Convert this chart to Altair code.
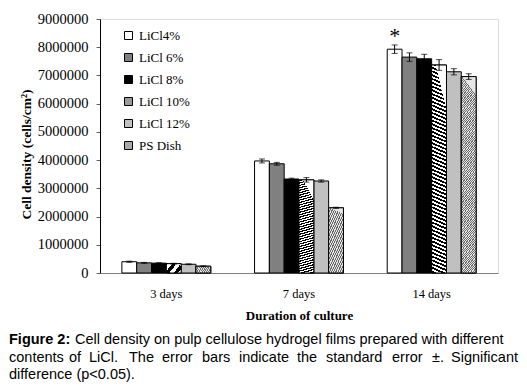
import altair as alt
import pandas as pd

days = ["3 days", "7 days", "14 days"]
series = ["LiCl4%", "LiCl 6%", "LiCl 8%", "LiCl 10%", "LiCl 12%", "PS Dish"]
values_3 = [400000, 360000, 350000, 330000, 310000, 240000]
values_7 = [3970000, 3870000, 3330000, 3300000, 3260000, 2310000]
values_14 = [7930000, 7650000, 7590000, 7370000, 7130000, 6960000]
err_3 = [20000, 15000, 15000, 15000, 15000, 15000]
err_7 = [70000, 50000, 30000, 80000, 40000, 20000]
err_14 = [150000, 150000, 160000, 190000, 110000, 100000]
y_ticks = [0, 1000000, 2000000, 3000000, 4000000, 5000000, 6000000, 7000000, 8000000, 9000000]
star_day, star_series, star_y = "14 days", "LiCl4%", 8500000

caption_1b = "Figure 2:"
caption_1 = "Cell density on pulp cellulose hydrogel films prepared with different"
caption_2_words = ["contents", "of", "LiCl.", "The", "error", "bars", "indicate", "the",
                   "standard", "error", "\u00b1.", "Significant"]
caption_3 = "difference (p<0.05)."

# text layout (pixel positions of the justified caption words, relative to plot left)
caption_2_x = [-91, -31, -11, 29, 62, 102, 139, 197, 226, 292, 332, 418]

colors = ["white", "#808080", "black", "#9a9a9a", "#c0c0c0", "#a8a8a8"]

rows = []
for d, vals, errs in zip(days, [values_3, values_7, values_14], [err_3, err_7, err_14]):
    for s, v, e in zip(series, vals, errs):
        rows.append({"Day": d, "Series": s, "Value": v, "Err": e})
df = pd.DataFrame(rows)

SERIF = "Liberation Serif"
SANS = "Liberation Sans"


def stripes(c1, c2, n, x1, x2):
    stops = []
    for i in range(n):
        a, b, c = i / n, (i + 0.5) / n, (i + 1) / n
        stops += [
            {"offset": a, "color": c1}, {"offset": b, "color": c1},
            {"offset": b, "color": c2}, {"offset": c, "color": c2},
        ]
    return {"gradient": "linear", "stops": stops, "x1": x1, "y1": 0, "x2": x2, "y2": 1}


x_axis = alt.Axis(
    title="Duration of culture", ticks=False, tickSize=0, labelAngle=0,
    labelFont=SERIF, labelFontSize=12.5, labelColor="black", labelPadding=14,
    domainColor="#808080", titleFont=SERIF, titleFontSize=13, titleFontWeight="bold",
    titleColor="black", titleY=42, titleBaseline="middle",
)
x_enc = alt.X("Day:N", sort=days,
              scale=alt.Scale(domain=days, paddingInner=0.33, paddingOuter=0.165),
              axis=x_axis)
xo_enc = alt.XOffset("Series:N", sort=series, scale=alt.Scale(domain=series, paddingInner=0, paddingOuter=0))
yscale = alt.Scale(domain=[0, 9000000], nice=False)
y_axis = alt.Axis(
    values=y_ticks, tickCount=10, format="d", grid=False, tickSize=4, tickColor="#606060",
    domainColor="black", labelFont=SERIF, labelFontSize=14.5, labelColor="black",
    labelPadding=8, labelOverlap=False, title="Cell density (cells/cm\u00b2)", titleFont=SERIF,
    titleFontSize=13.5, titleFontWeight="bold", titleColor="black",
    titleX=-74, titleY=135, titleAngle=270, titleAlign="center", titleBaseline="middle",
)


def Y(field):
    return alt.Y(field, type="quantitative", scale=yscale, axis=y_axis)


base = alt.Chart(df).encode(x=x_enc, xOffset=xo_enc)

bars = base.mark_bar(stroke="black", strokeWidth=1).encode(
    y=Y("Value"),
    fill=alt.Fill(
        "Series:N", sort=series,
        scale=alt.Scale(domain=series, range=colors),
        legend=alt.Legend(
            title=None, orient="none", legendX=22, legendY=10, symbolType="square",
            symbolSize=64, symbolStrokeColor="black", symbolStrokeWidth=1,
            labelFont=SERIF, labelFontSize=13, labelColor="black", rowPadding=8,
            symbolOpacity=1,
        ),
    ),
)

hatch10 = base.transform_filter(alt.datum.Series == "LiCl 10%").mark_bar(
    stroke="black", strokeWidth=1, fill=stripes("white", "black", 60, 0.3, 0)
).encode(y=Y("Value"))

hatchps = base.transform_filter(alt.datum.Series == "PS Dish").mark_bar(
    stroke="black", strokeWidth=1, fill=stripes("#e6e6e6", "#6a6a6a", 80, 0.1, 0)
).encode(y=Y("Value"))

eb = base.transform_calculate(
    lo="datum.Value - datum.Err", hi="datum.Value + datum.Err"
)
err_rule = eb.mark_rule(color="black", strokeWidth=1).encode(y=Y("lo"), y2="hi:Q")
cap_lo = eb.mark_tick(color="black", thickness=1, size=6, orient="horizontal").encode(y=Y("lo"))
cap_hi = eb.mark_tick(color="black", thickness=1, size=6, orient="horizontal").encode(y=Y("hi"))

star = alt.Chart(pd.DataFrame({"Day": [star_day], "Series": [star_series], "Value": [star_y], "t": ["*"]})).mark_text(
    font=SERIF, fontSize=22, baseline="middle", dy=3, color="black"
).encode(x=x_enc, xOffset=xo_enc, y=Y("Value"), text="t:N")


def cap(txt, x, y, bold=False, align="left"):
    return alt.Chart(pd.DataFrame({"t": [txt]})).mark_text(
        font=SANS, fontSize=14.5, fontWeight="bold" if bold else "normal",
        align=align, baseline="alphabetic", color="black",
    ).encode(x=alt.value(x), y=alt.value(y), text="t:N")


captions = [
    cap(caption_1b, -91, 325, bold=True),
    cap(caption_1, -25, 325),
    cap(caption_3, -91, 360),
]
for i, (w, xx) in enumerate(zip(caption_2_words, caption_2_x)):
    captions.append(cap(w, xx, 343, align="right" if i == len(caption_2_words) - 1 else "left"))

chart = alt.layer(bars, hatch10, hatchps, err_rule, cap_lo, cap_hi, star, *captions).properties(
    width=398, height=254,
    padding={"left": 92, "top": 11, "right": 21, "bottom": 109},
    autosize="none",
).configure_view(stroke=None).configure(background="white")

chart.save("out.html", embed_options={"renderer": "svg", "actions": False})
